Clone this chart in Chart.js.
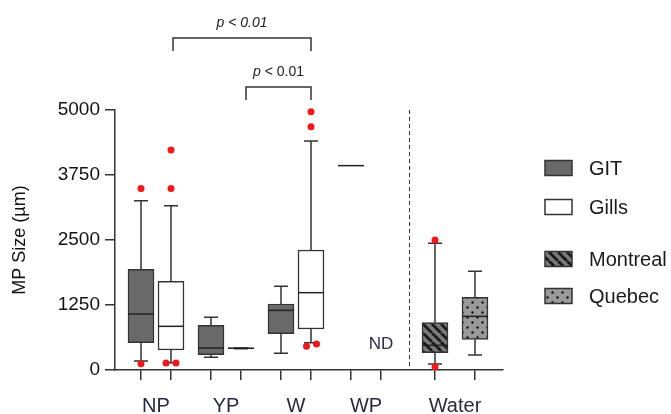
<!DOCTYPE html>
<html>
<head>
<meta charset="utf-8">
<script src="https://cdn.jsdelivr.net/npm/chart.js@4.4.1/dist/chart.umd.min.js"></script>
<style>
  html, body { margin: 0; padding: 0; background: #fff; }
  #wrap { width: 671px; height: 414px; }
</style>
</head>
<body>
<div id="wrap"><canvas id="graficaCajas"></canvas></div>
<script>
// valores (µm)
const groups = ['NP', 'YP', 'W', 'WP', 'Water'];
const seriesNames = ['GIT', 'Gills', 'Montreal', 'Quebec'];
const boxSeries = [0, 1, 0, 1, 0, 1, 0, 1, 2, 3];
const boxGroup = [0, 0, 1, 1, 2, 2, 3, 3, 4, 4];
const whiskerMin = [175, 141, 244, 410, 320, 526, null, null, 115, 288];
const q1 = [526, 385, 295, 410, 699, 788, 3930, null, 333, 590];
const median = [1077, 840, 423, 418, 1147, 1487, 3930, null, 474, 1032];
const q3 = [1936, 1705, 859, 425, 1269, 2308, 3930, null, 910, 1397];
const whiskerMax = [3256, 3160, 1013, 425, 1609, 4404, null, null, 2436, 1897];
const outlierBox = [0, 0, 1, 1, 1, 1, 5, 5, 5, 5, 8, 8];
const outlierValue = [3490, 120, 4230, 3490, 135, 135, 4968, 4680, 455, 500, 2500, 64];
const yTicks = [0, 1250, 2500, 3750, 5000];
const pLabel = 'p < 0.01';
const ndLabel = 'ND';

// posiciones / estilo
const boxX = [2.6, 5.6, 9.6, 12.6, 16.6, 19.6, 23.6, 26.6, 32, 36];
const outlierJitter = [0, 0, 0, 0, -0.5, 0.5, 0, 0, -0.45, 0.55, 0, 0];
const xMax = 38.8;
const dividerX = 29.4;
const ndBox = 7;
const boxWidthPx = 26;
const capPx = 7;
const brackets = [
  { x1: 5.8, x2: 19.6, y: 6385, italicAll: true },
  { x1: 13.1, x2: 19.6, y: 5442, italicAll: false }
];
const FONT = "'Liberation Sans', Arial, Helvetica, sans-serif";

const groupCenters = groups.map((g, gi) => {
  const xs = boxX.filter((_, i) => boxGroup[i] === gi);
  return (xs[0] + xs[xs.length - 1]) / 2;
});

const ctx = document.getElementById('graficaCajas').getContext('2d');

function hatchPattern() {
  const c = document.createElement('canvas');
  c.width = 9; c.height = 9;
  const g = c.getContext('2d');
  g.fillStyle = '#7a7a7a';
  g.fillRect(0, 0, 9, 9);
  g.strokeStyle = '#1a1a1a';
  g.lineWidth = 2.8;
  g.beginPath();
  for (const o of [-9, 0, 9]) { g.moveTo(o, 0); g.lineTo(o + 9, 9); }
  g.stroke();
  return ctx.createPattern(c, 'repeat');
}

function dotPattern() {
  const c = document.createElement('canvas');
  c.width = 10; c.height = 10;
  const g = c.getContext('2d');
  g.fillStyle = '#9a9a9a';
  g.fillRect(0, 0, 10, 10);
  g.fillStyle = '#111';
  for (const [a, b] of [[2.5, 2.5], [7.5, 7.5]]) {
    g.beginPath(); g.arc(a, b, 1.2, 0, Math.PI * 2); g.fill();
  }
  return ctx.createPattern(c, 'repeat');
}

const fills = ['#696969', '#ffffff', hatchPattern(), dotPattern()];

const boxData = [];
const boxColors = [];
boxX.forEach((x, i) => {
  if (q1[i] == null || q3[i] <= q1[i]) return;
  boxData.push({ x: x, y: [q1[i], q3[i]] });
  boxColors.push(fills[boxSeries[i]]);
});

const outlierData = outlierBox.map((b, k) => ({ x: boxX[b] + outlierJitter[k], y: outlierValue[k] }));

const boxPlotPlugin = {
  id: 'boxPlot',
  beforeDatasetsDraw(chart) {
    const { ctx, scales: { x, y }, chartArea } = chart;
    ctx.save();
    // linea divisoria
    ctx.strokeStyle = '#333';
    ctx.lineWidth = 1;
    ctx.setLineDash([4, 3]);
    const dx = Math.round(x.getPixelForValue(dividerX)) + 0.5;
    ctx.beginPath();
    ctx.moveTo(dx, chartArea.top);
    ctx.lineTo(dx, chartArea.bottom);
    ctx.stroke();
    ctx.setLineDash([]);
    // bigotes
    ctx.lineWidth = 1.5;
    boxX.forEach((bx, i) => {
      if (whiskerMax[i] == null) return;
      const px = x.getPixelForValue(bx);
      const yHi = y.getPixelForValue(whiskerMax[i]);
      const yLo = y.getPixelForValue(whiskerMin[i]);
      ctx.beginPath();
      ctx.moveTo(px, y.getPixelForValue(q3[i])); ctx.lineTo(px, yHi);
      ctx.moveTo(px, y.getPixelForValue(q1[i])); ctx.lineTo(px, yLo);
      ctx.moveTo(px - capPx, yHi); ctx.lineTo(px + capPx, yHi);
      ctx.moveTo(px - capPx, yLo); ctx.lineTo(px + capPx, yLo);
      ctx.stroke();
    });
    ctx.restore();
  },
  afterDatasetDraw(chart, args) {
    if (args.index !== 0) return;
    const { ctx, scales: { x, y } } = chart;
    ctx.save();
    ctx.strokeStyle = '#222';
    ctx.lineWidth = 1.5;
    boxX.forEach((bx, i) => {
      if (median[i] == null) return;
      const px = x.getPixelForValue(bx);
      const py = y.getPixelForValue(median[i]);
      ctx.beginPath();
      ctx.moveTo(px - boxWidthPx / 2, py);
      ctx.lineTo(px + boxWidthPx / 2, py);
      ctx.stroke();
    });
    ctx.restore();
  },
  afterDraw(chart) {
    const { ctx, scales: { x, y }, chartArea } = chart;
    ctx.save();
    // corchetes de significancia
    ctx.strokeStyle = '#333';
    ctx.lineWidth = 1.5;
    ctx.fillStyle = '#222';
    ctx.textBaseline = 'middle';
    brackets.forEach(b => {
      const x1 = x.getPixelForValue(b.x1);
      const x2 = x.getPixelForValue(b.x2);
      const py = y.getPixelForValue(b.y);
      ctx.beginPath();
      ctx.moveTo(x1, py + 13); ctx.lineTo(x1, py); ctx.lineTo(x2, py); ctx.lineTo(x2, py + 13);
      ctx.stroke();
      const head = pLabel.slice(0, 1);
      const tail = pLabel.slice(1);
      ctx.font = 'italic 14px ' + FONT;
      const wHead = ctx.measureText(head).width;
      ctx.font = (b.italicAll ? 'italic ' : '') + '14px ' + FONT;
      const wTail = ctx.measureText(tail).width;
      const start = (x1 + x2) / 2 - (wHead + wTail) / 2;
      ctx.textAlign = 'left';
      ctx.font = 'italic 14px ' + FONT;
      ctx.fillText(head, start, py - 15);
      ctx.font = (b.italicAll ? 'italic ' : '') + '14px ' + FONT;
      ctx.fillText(tail, start + wHead, py - 15);
    });
    // ND
    ctx.font = '17px ' + FONT;
    ctx.fillStyle = '#2b2e4a';
    ctx.textAlign = 'center';
    ctx.fillText(ndLabel, x.getPixelForValue(boxX[ndBox]), y.getPixelForValue(500));
    // leyenda
    const legendY = [168, 207, 259, 296];
    const lx = chartArea.right + 42;
    ctx.textAlign = 'left';
    ctx.font = '20px ' + FONT;
    seriesNames.forEach((name, i) => {
      const cy = legendY[i];
      ctx.fillStyle = fills[i];
      ctx.fillRect(lx, cy - 7.5, 27, 15);
      ctx.strokeStyle = '#333';
      ctx.lineWidth = 1.5;
      ctx.strokeRect(lx, cy - 7.5, 27, 15);
      ctx.fillStyle = '#1a1a1a';
      ctx.fillText(name, lx + 44, cy + 1);
    });
    ctx.restore();
  }
};

new Chart(ctx, {
  type: 'bar',
  data: {
    datasets: [{
      label: 'boxes',
      data: boxData,
      backgroundColor: boxColors,
      borderColor: '#333',
      borderWidth: 1.5,
      borderSkipped: false,
      barThickness: boxWidthPx,
      order: 2
    }, {
      type: 'scatter',
      label: 'outliers',
      data: outlierData,
      backgroundColor: '#f01818',
      borderWidth: 0,
      pointRadius: 3.5,
      clip: false,
      order: 1
    }]
  },
  options: {
    responsive: true,
    maintainAspectRatio: false,
    animation: false,
    layout: { padding: { top: 110, right: 168, bottom: 0, left: 0 } },
    plugins: { legend: { display: false }, tooltip: { enabled: false } },
    scales: {
      x: {
        type: 'linear',
        position: 'bottom',
        offset: false,
        min: 0,
        max: xMax,
        afterBuildTicks: s => { s.ticks = boxX.map(v => ({ value: v })); },
        afterFit: s => { s.height = 10; },
        ticks: { callback: () => '', autoSkip: false, maxRotation: 0, padding: 0 },
        grid: { offset: false, drawOnChartArea: false, tickLength: 10, color: '#333', lineWidth: 1.5 },
        border: { color: '#333', width: 1.5 }
      },
      x2: {
        type: 'linear',
        axis: 'x',
        position: 'bottom',
        offset: false,
        min: 0,
        max: xMax,
        afterBuildTicks: s => { s.ticks = groupCenters.map(v => ({ value: v })); },
        afterFit: s => { s.height = 34; },
        ticks: {
          callback: (v, i) => groups[i],
          autoSkip: false,
          maxRotation: 0,
          padding: 6,
          color: '#262a40',
          font: { family: FONT, size: 20 }
        },
        grid: { display: false, offset: false },
        border: { display: false }
      },
      y: {
        min: 0,
        max: 5000,
        afterBuildTicks: s => { s.ticks = yTicks.map(v => ({ value: v })); },
        afterFit: s => { s.width = 115; },
        ticks: { callback: v => String(v), padding: 5, color: '#111', font: { family: FONT, size: 19 } },
        grid: { drawOnChartArea: false, tickLength: 10, color: '#333', lineWidth: 1.5 },
        border: { color: '#333', width: 1.5 },
        title: {
          display: true,
          text: 'MP Size (µm)',
          color: '#111',
          font: { family: FONT, size: 18 },
          padding: { top: 9, bottom: 0 }
        }
      }
    }
  },
  plugins: [boxPlotPlugin]
});
</script>
</body>
</html>
